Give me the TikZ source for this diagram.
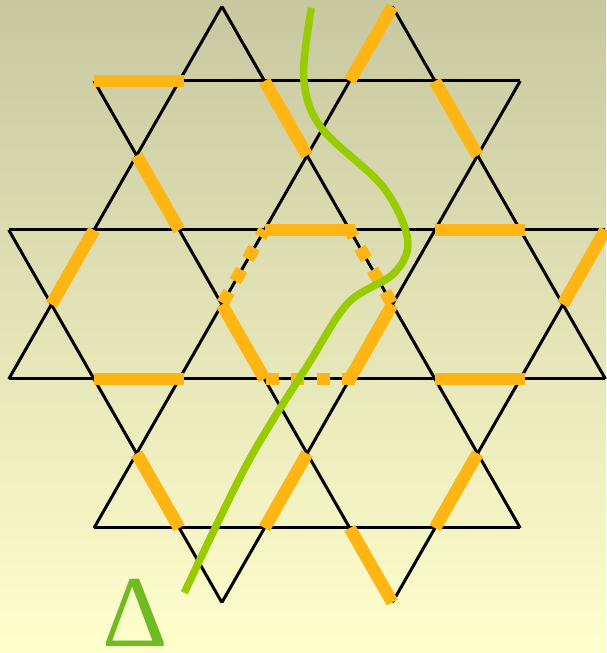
\documentclass[tikz,border=0pt]{standalone}
\usepackage{fontspec}
\usepackage{xcolor}
\usepackage{tikz}
\newfontfamily\deltafont{Liberation Serif}
\definecolor{bgtop}{RGB}{199,200,160}
\definecolor{bgmid}{RGB}{236,237,189}
\definecolor{bgbot}{RGB}{255,255,204}
\definecolor{dimerorange}{RGB}{255,181,20}
\definecolor{cutgreen}{RGB}{153,204,0}
\definecolor{deltagreen}{RGB}{112,186,34}

\begin{document}
\begin{tikzpicture}[x=1cm,y=0.874cm,
  bond/.style={line width=1pt,black},
  dimer/.style={line width=4.2pt,dimerorange},
  dimerdash/.style={line width=4.2pt,dimerorange,dash pattern=on 4.3pt off 4.2pt,dash phase=-0.5pt}]
\useasboundingbox (-3.603,-4.678) rectangle (3.509,4.087);

% background
\shade[top color=bgtop,middle color=bgmid,bottom color=bgbot]
  (-3.603,-4.678) rectangle (3.509,4.087);

% kagome lattice
\draw[bond] (-2.5,3) -- (2.5,3);
\draw[bond] (-3.5,1) -- (3.5,1);
\draw[bond] (-3.5,-1) -- (3.5,-1);
\draw[bond] (-2.5,-3) -- (2.5,-3);
\draw[bond] (-3.5,-1) -- (-1,4);
\draw[bond] (-2.5,-3) -- (1,4);
\draw[bond] (-1,-4) -- (2.5,3);
\draw[bond] (1,-4) -- (3.5,1);
\draw[bond] (3.5,-1) -- (1,4);
\draw[bond] (2.5,-3) -- (-1,4);
\draw[bond] (1,-4) -- (-2.5,3);
\draw[bond] (-1,-4) -- (-3.5,1);

% dimers
\draw[dimer] (-2.5,3) -- (-1.44,3);
\draw[dimer] (-0.5,3) -- (0,2);
\draw[dimer] (0.5,3) -- (1,4);
\draw[dimer] (1.5,3) -- (2,2);
\draw[dimer] (-2,2) -- (-1.5,1);
\draw[dimer] (-2.5,1) -- (-3,0);
\draw[dimer] (-0.5,1) -- (0.56,1);
\draw[dimer] (1.5,1) -- (2.56,1);
\draw[dimer] (3.5,1) -- (3,0);
\draw[dimer] (-1,0) -- (-0.5,-1);
\draw[dimer] (1,0) -- (0.5,-1);
\draw[dimer] (-2.5,-1) -- (-1.44,-1);
\draw[dimer] (1.5,-1) -- (2.56,-1);
\draw[dimer] (-2,-2) -- (-1.5,-3);
\draw[dimer] (0,-2) -- (-0.5,-3);
\draw[dimer] (2,-2) -- (1.5,-3);
\draw[dimer] (0.5,-3) -- (1,-4);

% open hexagon
\draw[dimerdash] (-1,0) -- (-0.5,1);
\draw[dimerdash] (1,0) -- (0.5,1);
\draw[dimerdash] (-0.5,-1) -- (0.56,-1);

% cut
\draw[line width=2.5pt,cutgreen]
  plot[smooth,tension=0.55] coordinates {
    (0.05,3.98)
    (-0.04,3.05)
    (0.16,2.38)
    (0.89,1.58)
    (1.18,0.87)
    (1.02,0.42)
    (0.48,0.02)
    (0.02,-0.79)
    (-0.70,-2.13)
    (-1.44,-3.87)
  };

\node[anchor=south,inner sep=0pt,text=deltagreen,
  font=\deltafont\fontsize{34}{34}\selectfont] (delta) at (-2.013,-4.60) {Δ};
\end{tikzpicture}
\end{document}
